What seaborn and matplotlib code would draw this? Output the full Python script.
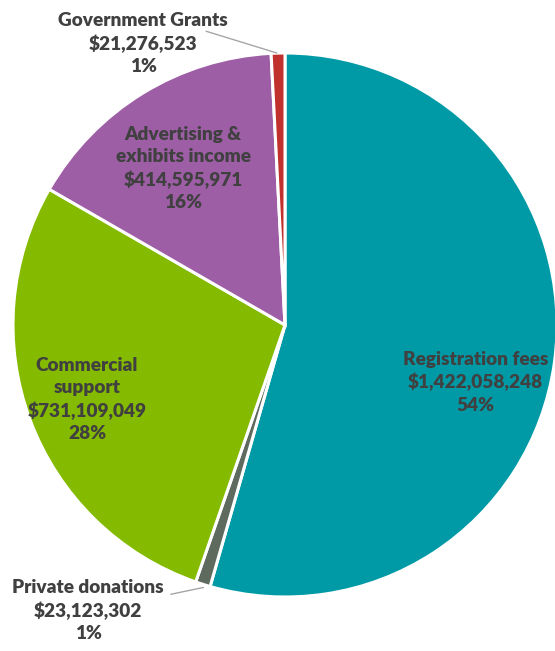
import matplotlib
matplotlib.use("Agg")
import matplotlib.pyplot as plt
import seaborn as sns

categories = ["Registration fees", "Private donations", "Commercial\nsupport",
              "Advertising &\nexhibits income", "Government Grants"]
values = [1422058248, 23123302, 731109049, 414595971, 21276523]
percent_labels = ["54%", "1%", "28%", "16%", "1%"]
colors = ["#009AA6", "#5F6A5F", "#84BA00", "#9E5EA6", "#C0302C"]

sns.set_theme(style="white")
plt.rcParams['font.family'] = ['Lato', 'DejaVu Sans']

W, H = 555, 651
fig = plt.figure(figsize=(W / 100, H / 100), dpi=100)
cx, cy, R = 285, 325, 272
ax = fig.add_axes([(cx - R) / W, (H - cy - R) / H, 2 * R / W, 2 * R / H])

wedges, _ = ax.pie(values, colors=colors, startangle=90, counterclock=False,
                   radius=1.0, wedgeprops=dict(edgecolor="white", linewidth=2.2))
for w in wedges:
    w.set_clip_on(False)
ax.set_xlim(-1, 1)
ax.set_ylim(-1, 1)
ax.set_aspect("equal")
ax.axis("off")

# label anchor positions (data units) and leader lines
label_pos = [(0.70, -0.21), (-0.724, -1.05), (-0.728, -0.275),
             (-0.375, 0.575), (-0.522, 1.035)]
leaders = {1: [(-0.42, -0.99), (-0.30, -0.965)],
           4: [(-0.29, 1.08), (-0.03, 1.0)]}

txtcolor = "#404040"
for i, (cat, v, p) in enumerate(zip(categories, values, percent_labels)):
    s = f"{cat}\n${v:,}\n{p}"
    x, y = label_pos[i]
    ax.text(x, y, s, ha="center", va="center", fontsize=13.7, fontweight="heavy",
            color=txtcolor, linespacing=1.36, clip_on=False)
    if i in leaders:
        (x0, y0), (x1, y1) = leaders[i]
        ax.plot([x0, x1], [y0, y1], color="#A6A6A6", linewidth=1, clip_on=False)

fig.savefig("out.png", dpi=100)
